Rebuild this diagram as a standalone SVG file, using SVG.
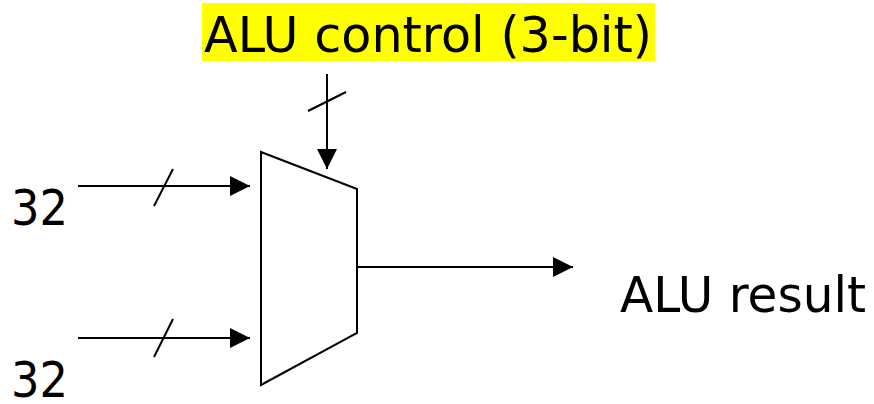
<svg xmlns="http://www.w3.org/2000/svg" width="874" height="404" viewBox="0 0 874 404">
<style>
text{font-family:"DejaVu Sans","Noto Sans",sans-serif;font-size:50px;fill:#000}
.w{stroke:#000;stroke-width:2;fill:none}
</style>
<defs>
<marker id="ah" viewBox="0 0 20 20" refX="20" refY="10" markerWidth="20" markerHeight="20" markerUnits="userSpaceOnUse" orient="auto">
<path d="M0,0 L20,10 L0,20 Z" fill="#000"/>
</marker>
</defs>
<rect width="874" height="404" fill="#fff"/>
<g id="alu">
<polygon class="w" points="261,152 357,189 357,333 261,385"/>
</g>
<g id="label-control">
<rect x="202" y="3" width="453" height="58" fill="#ffff00"/>
<text x="204" y="52" textLength="448" lengthAdjust="spacingAndGlyphs">ALU control (3-bit)</text>
</g>
<g id="label-a"><text x="11" y="225" textLength="57" lengthAdjust="spacingAndGlyphs">32</text></g>
<g id="label-b"><text x="11" y="397" textLength="57" lengthAdjust="spacingAndGlyphs">32</text></g>
<g id="label-result"><text x="620" y="312" textLength="246" lengthAdjust="spacingAndGlyphs">ALU result</text></g>
<g id="connectors">
<line class="w" x1="327" y1="74" x2="327" y2="169" marker-end="url(#ah)"/>
<line class="w" x1="308" y1="111" x2="346" y2="92"/>
<line class="w" x1="78" y1="186" x2="250" y2="186" marker-end="url(#ah)"/>
<line class="w" x1="154" y1="206" x2="173" y2="169"/>
<line class="w" x1="78" y1="338" x2="250" y2="338" marker-end="url(#ah)"/>
<line class="w" x1="154" y1="357" x2="173" y2="319"/>
<line class="w" x1="357" y1="267" x2="573" y2="267" marker-end="url(#ah)"/>
</g>
</svg>
